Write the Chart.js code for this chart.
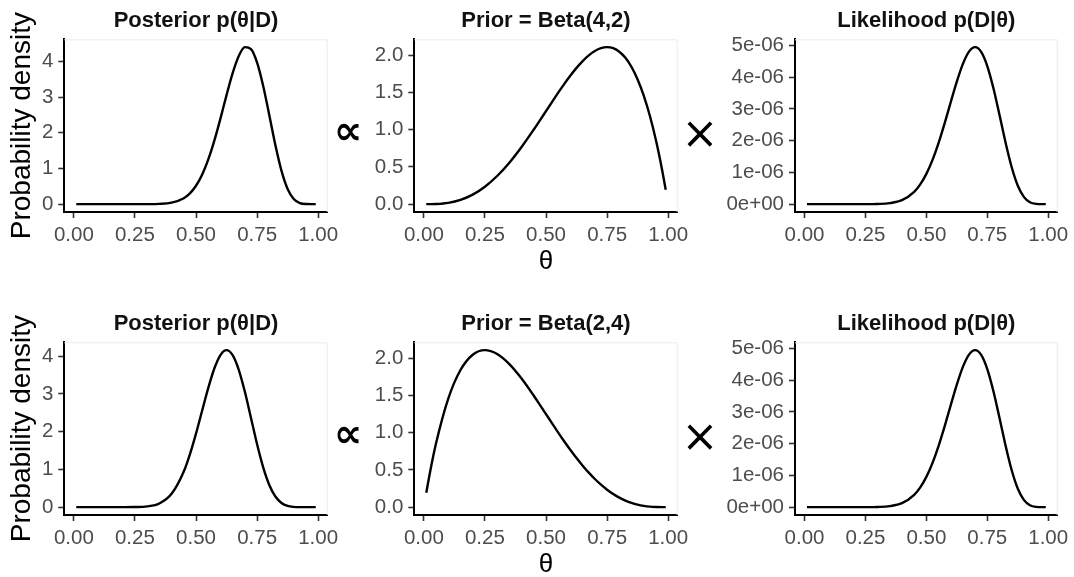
<!DOCTYPE html>
<html>
<head>
<meta charset="utf-8">
<script src="https://cdn.jsdelivr.net/npm/chart.js@4/dist/chart.umd.min.js"></script>
<style>
html, body { margin: 0; padding: 0; background: #fff; width: 1074px; height: 577px; overflow: hidden; position: relative; }
canvas { position: absolute; }
.sym { position: absolute; font-family: 'DejaVu Sans', sans-serif; color: #000; line-height: 1; transform: translate(-50%, -50%); white-space: nowrap; }
</style>
</head>
<body>
<canvas id="p1" width="358" height="290" style="left:0px;top:0px"></canvas>
<canvas id="p2" width="368" height="290" style="left:340px;top:0px"></canvas>
<canvas id="p3" width="368" height="290" style="left:720px;top:0px"></canvas>
<canvas id="p4" width="358" height="290" style="left:0px;top:303px"></canvas>
<canvas id="p5" width="368" height="290" style="left:340px;top:303px"></canvas>
<canvas id="p6" width="368" height="290" style="left:720px;top:303px"></canvas>
<div class="sym" style="left:348px;top:130px;font-size:40px;font-weight:bold">∝</div>
<div class="sym" style="left:700px;top:133px;font-size:44px">×</div>
<div class="sym" style="left:348px;top:433px;font-size:40px;font-weight:bold">∝</div>
<div class="sym" style="left:700px;top:436px;font-size:44px">×</div>
<script>
// ---- data ----
const theta = [0.01, 0.025, 0.05, 0.10, 0.15, 0.20, 0.25, 0.30, 0.35, 0.40, 0.45, 0.475, 0.50, 0.525, 0.55, 0.575, 0.60, 0.625, 0.65, 0.675, 0.70, 0.725, 0.75, 0.775, 0.80, 0.825, 0.85, 0.875, 0.90, 0.925, 0.95, 0.975, 0.99];

// top row: prior Beta(4,2)
const posteriorTop = [0, 0, 0, 0, 0, 0, 0.00007, 0.00092, 0.0075, 0.0416, 0.1676, 0.3034, 0.5157, 0.8255, 1.2467, 1.7791, 2.3996, 3.0575, 3.6743, 4.1548, 4.4025, 4.3474, 3.9700, 3.3157, 2.4941, 1.6525, 0.9331, 0.4263, 0.1443, 0.0307, 0.0028, 0.00003, 0];
const priorTop = [0.00002, 0.0003, 0.002375, 0.018, 0.057375, 0.128, 0.234375, 0.378, 0.557375, 0.768, 1.002375, 1.1253, 1.25, 1.37468, 1.497375, 1.61593, 1.728, 1.831055, 1.922375, 1.999055, 2.058, 2.09593, 2.109375, 2.09468, 2.048, 1.96531, 1.842375, 1.6748, 1.458, 1.18718, 0.857375, 0.46343, 0.19406];

// bottom row: prior Beta(2,4)
const posteriorBottom = [0, 0, 0, 0, 0, 0.00014, 0.0023, 0.0189, 0.0981, 0.3537, 0.9457, 1.4003, 1.9484, 2.5526, 3.1528, 3.6714, 4.0285, 4.1582, 4.0245, 3.6381, 3.0549, 2.3632, 1.6664, 1.0557, 0.5889, 0.2809, 0.1098, 0.0329, 0.0067, 0.0008, 0, 0, 0];
const priorBottom = [0.19406, 0.46343, 0.857375, 1.458, 1.842375, 2.048, 2.109375, 2.058, 1.922375, 1.728, 1.497375, 1.37468, 1.25, 1.1253, 1.002375, 0.88281, 0.768, 0.65918, 0.557375, 0.46343, 0.378, 0.301555, 0.234375, 0.176555, 0.128, 0.08843, 0.057375, 0.03418, 0.018, 0.0078, 0.002375, 0.0003, 0.00002];

// likelihood (same in both rows)
const likelihood = [0, 0, 0, 0, 0, 0, 0, 5.6e-9, 3.13e-8, 1.252e-7, 3.865e-7, 6.232e-7, 9.537e-7, 1.388e-6, 1.9244e-6, 2.5447e-6, 3.2097e-6, 3.8593e-6, 4.418e-6, 4.8034e-6, 4.9447e-6, 4.7948e-6, 4.3504e-6, 3.6588e-6, 2.8148e-6, 1.9434e-6, 1.1706e-6, 5.883e-7, 2.288e-7, 5.98e-8, 7.6e-9, 0, 0];

const panelTitles = ['Posterior p(θ|D)', 'Prior = Beta(4,2)', 'Likelihood p(D|θ)', 'Posterior p(θ|D)', 'Prior = Beta(2,4)', 'Likelihood p(D|θ)'];
const yAxisTitle = 'Probability density';
const xAxisTitle = 'θ';

const xTickValues = [0, 0.25, 0.5, 0.75, 1];
const xTickLabels = ['0.00', '0.25', '0.50', '0.75', '1.00'];
const posteriorTickValues = [0, 1, 2, 3, 4];
const posteriorTickLabels = ['0', '1', '2', '3', '4'];
const priorTickValues = [0, 0.5, 1, 1.5, 2];
const priorTickLabels = ['0.0', '0.5', '1.0', '1.5', '2.0'];
const likelihoodTickValues = [0, 1e-6, 2e-6, 3e-6, 4e-6, 5e-6];
const likelihoodTickLabels = ['0e+00', '1e-06', '2e-06', '3e-06', '4e-06', '5e-06'];

// ---- drawing ----
const FONT = "'Liberation Sans', Arial, sans-serif";
Chart.defaults.font.family = FONT;

const panelBorder = {
  id: 'panelBorder',
  afterDraw(chart) {
    const {ctx, chartArea: a} = chart;
    ctx.save();
    ctx.strokeStyle = '#ebebeb';
    ctx.lineWidth = 1;
    ctx.beginPath();
    ctx.moveTo(a.left, a.top + 0.5);
    ctx.lineTo(a.right - 0.5, a.top + 0.5);
    ctx.lineTo(a.right - 0.5, a.bottom);
    ctx.stroke();
    ctx.restore();
  }
};

const xMin = theta[0] - 0.05 * (theta[theta.length - 1] - theta[0]);
const xMax = theta[theta.length - 1] + 0.05 * (theta[theta.length - 1] - theta[0]);

const yAxisWidths = [64.3, 74.3, 75];
const PAD_RIGHT = 30.3;

function makePanel(id, col, series, title, tickValues, tickLabels) {
  const lo = Math.min(...series), hi = Math.max(...series);
  const span = hi - lo;
  new Chart(document.getElementById(id), {
    type: 'line',
    data: {
      datasets: [{
        data: theta.map((t, i) => ({x: t, y: series[i]})),
        borderColor: '#000',
        borderWidth: 2.4,
        pointRadius: 0,
        fill: false,
        cubicInterpolationMode: 'monotone'
      }]
    },
    options: {
      responsive: false,
      animation: false,
      events: [],
      layout: {padding: {left: 0, right: PAD_RIGHT, top: 0, bottom: 0}},
      plugins: {
        legend: {display: false},
        tooltip: {enabled: false},
        title: {
          display: true, text: title, fullSize: false, color: '#111',
          font: {size: 22, weight: 'bold', family: FONT, lineHeight: 1.2},
          padding: {top: 7.5, bottom: 5.4}
        }
      },
      scales: {
        x: {
          type: 'linear', min: xMin, max: xMax,
          afterFit: s => { s.height = 78; },
          afterBuildTicks: s => { s.ticks = xTickValues.map(v => ({value: v})); },
          ticks: {
            callback: (v, i) => xTickLabels[i],
            color: '#4d4d4d', font: {size: 20.5}, padding: 5,
            maxRotation: 0, autoSkip: false
          },
          grid: {drawOnChartArea: false, drawTicks: true, tickLength: 6, tickColor: '#333333', tickWidth: 1.6},
          border: {display: true, color: '#000', width: 2},
          title: {
            display: col === 1, text: xAxisTitle, color: '#000',
            font: {size: 26, lineHeight: 1.2}, padding: {top: 0, bottom: 12.7}
          }
        },
        y: {
          type: 'linear', min: lo - 0.05 * span, max: hi + 0.05 * span,
          afterFit: s => { s.width = yAxisWidths[col]; },
          afterBuildTicks: s => { s.ticks = tickValues.map(v => ({value: v})); },
          ticks: {
            callback: (v, i) => tickLabels[i],
            color: '#4d4d4d', font: {size: 20.5}, padding: 5
          },
          grid: {drawOnChartArea: false, drawTicks: true, tickLength: 6, tickColor: '#333333', tickWidth: 1.6},
          border: {display: true, color: '#000', width: 2},
          title: {
            display: col === 0, text: yAxisTitle, color: '#000',
            font: {size: 28, lineHeight: 1.2}, padding: {top: 5.2, bottom: 0}
          }
        }
      }
    },
    plugins: [panelBorder]
  });
}

makePanel('p1', 0, posteriorTop, panelTitles[0], posteriorTickValues, posteriorTickLabels);
makePanel('p2', 1, priorTop, panelTitles[1], priorTickValues, priorTickLabels);
makePanel('p3', 2, likelihood, panelTitles[2], likelihoodTickValues, likelihoodTickLabels);
makePanel('p4', 0, posteriorBottom, panelTitles[3], posteriorTickValues, posteriorTickLabels);
makePanel('p5', 1, priorBottom, panelTitles[4], priorTickValues, priorTickLabels);
makePanel('p6', 2, likelihood, panelTitles[5], likelihoodTickValues, likelihoodTickLabels);
</script>
</body>
</html>
